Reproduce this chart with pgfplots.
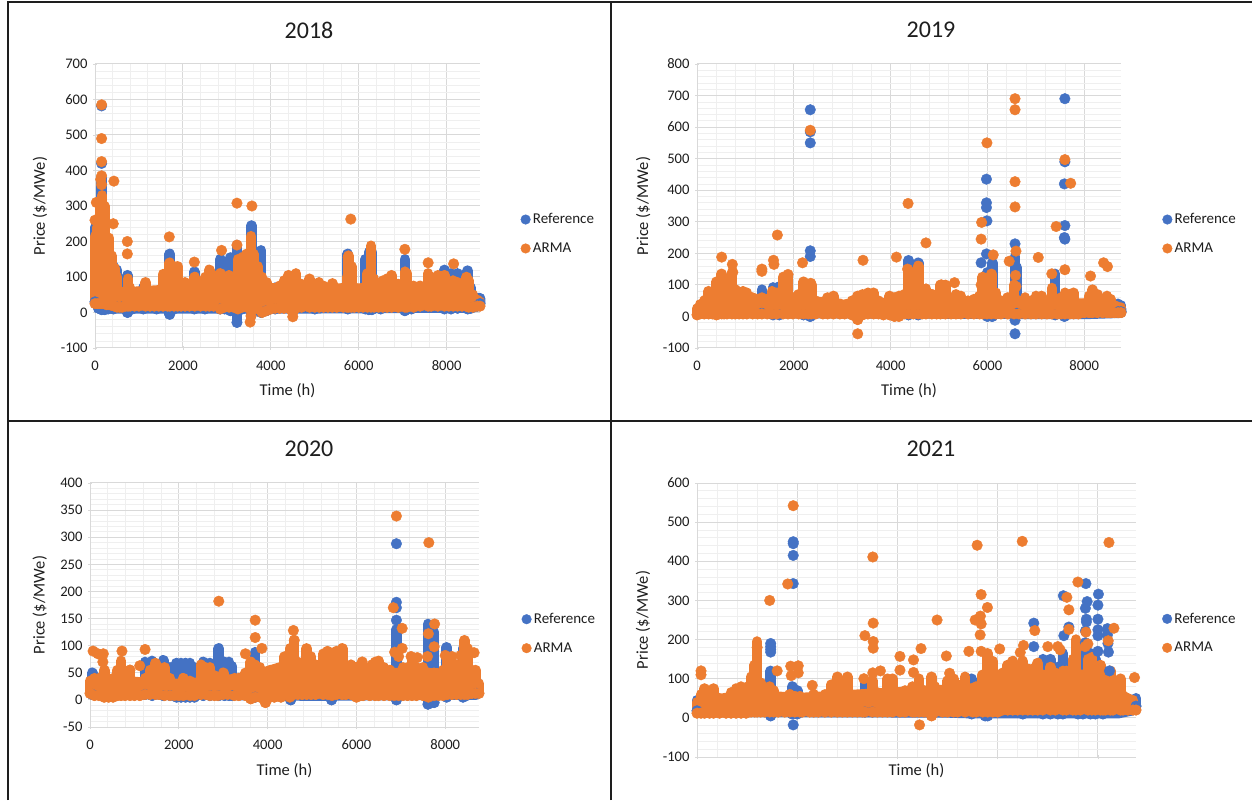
\documentclass[border=0pt]{standalone}
\usepackage{pgfplots}
\usepackage{pgfplotstable}
\usepackage{fontspec}
\setmainfont{Carlito}
\pgfplotsset{compat=1.18}
\definecolor{refblue}{HTML}{4472C4}
\definecolor{armaor}{HTML}{ED7D31}
\definecolor{txt}{HTML}{1E1E1E}
\definecolor{gmaj}{HTML}{D9D9D9}
\definecolor{gmin}{HTML}{EFEFEF}

% ---------- 2018 ----------
\pgfplotstableread[row sep=\\]{
x lo hi\\
0 25 215\\ 60 25 240\\ 110 25 300\\ 160 25 330\\ 210 25 300\\ 260 22 210\\ 320 22 210\\ 380 20 160\\ 440 18 125\\ 500 15 100\\ 560 15 60\\ 620 15 55\\ 700 18 60\\ 750 18 95\\ 800 18 70\\ 900 18 55\\ 1000 18 50\\ 1150 18 85\\ 1250 18 60\\ 1350 18 55\\ 1450 18 60\\ 1550 18 108\\ 1650 18 110\\ 1700 18 140\\ 1800 18 130\\ 1880 18 130\\ 1960 18 75\\ 2050 18 85\\ 2150 18 60\\ 2270 18 100\\ 2400 18 65\\ 2520 18 100\\ 2600 18 120\\ 2700 18 105\\ 2850 10 110\\ 2950 15 100\\ 3050 15 105\\ 3150 15 100\\ 3250 10 150\\ 3350 15 155\\ 3450 15 165\\ 3550 -10 215\\ 3600 10 165\\ 3700 10 130\\ 3800 0 100\\ 3900 5 85\\ 4000 10 60\\ 4100 12 60\\ 4200 12 75\\ 4300 12 90\\ 4400 12 105\\ 4500 0 85\\ 4570 12 110\\ 4700 15 80\\ 4880 15 95\\ 5000 15 70\\ 5100 15 85\\ 5200 15 75\\ 5300 15 65\\ 5400 15 82\\ 5500 15 65\\ 5650 15 70\\ 5730 15 100\\ 5770 15 160\\ 5830 15 130\\ 5900 15 70\\ 6000 15 65\\ 6100 15 70\\ 6200 15 110\\ 6280 15 188\\ 6350 15 95\\ 6450 15 75\\ 6550 15 90\\ 6650 15 95\\ 6750 15 105\\ 6900 15 80\\ 7050 15 115\\ 7100 15 110\\ 7250 15 75\\ 7400 18 75\\ 7580 18 110\\ 7650 18 100\\ 7800 18 105\\ 7950 18 105\\ 8050 18 85\\ 8150 18 90\\ 8250 18 85\\ 8350 18 80\\ 8450 18 100\\ 8500 15 90\\ 8600 15 50\\ 8700 18 35\\ 8760 18 30\\
}\oA
\pgfplotstableread[row sep=\\]{
x lo hi\\
0 30 240\\ 80 12 260\\ 150 8 380\\ 220 8 200\\ 300 10 180\\ 420 10 130\\ 500 15 120\\ 600 15 50\\ 740 0 105\\ 850 10 50\\ 1100 10 70\\ 1400 10 60\\ 1700 -5 165\\ 1800 10 80\\ 2260 10 115\\ 2500 10 60\\ 2850 10 150\\ 2950 10 130\\ 3080 5 155\\ 3230 -28 190\\ 3350 10 130\\ 3560 -5 245\\ 3780 0 175\\ 3900 5 80\\ 4100 10 70\\ 5000 10 60\\ 5750 10 165\\ 6150 10 150\\ 6230 8 170\\ 6300 8 170\\ 6500 10 70\\ 7050 5 150\\ 7200 10 70\\ 7950 10 120\\ 8100 10 110\\ 8250 12 110\\ 8480 10 118\\ 8550 12 70\\ 8700 18 40\\ 8760 25 40\\
}\bA
% ---------- 2019 ----------
\pgfplotstableread[row sep=\\]{
x lo hi\\
0 5 25\\ 60 8 38\\ 150 8 50\\ 240 8 80\\ 320 8 65\\ 400 5 110\\ 450 8 105\\ 510 8 135\\ 560 8 95\\ 620 8 60\\ 720 8 140\\ 790 8 85\\ 870 8 75\\ 950 8 80\\ 1030 8 75\\ 1150 8 60\\ 1250 8 55\\ 1340 8 60\\ 1450 8 55\\ 1550 8 80\\ 1650 8 75\\ 1780 8 125\\ 1880 8 130\\ 1980 8 60\\ 2100 8 70\\ 2200 8 110\\ 2300 8 85\\ 2360 8 100\\ 2450 8 50\\ 2600 8 40\\ 2700 8 60\\ 2820 8 65\\ 2950 8 40\\ 3050 8 35\\ 3200 5 50\\ 3320 -10 65\\ 3420 5 70\\ 3530 8 75\\ 3650 8 75\\ 3750 8 50\\ 3850 5 40\\ 3980 5 65\\ 4080 0 60\\ 4170 0 65\\ 4280 8 70\\ 4370 8 145\\ 4470 8 70\\ 4570 8 160\\ 4650 8 70\\ 4730 8 88\\ 4850 8 70\\ 4950 8 65\\ 5030 8 100\\ 5130 8 100\\ 5250 8 60\\ 5350 8 70\\ 5450 8 65\\ 5600 8 50\\ 5720 8 55\\ 5840 8 65\\ 5900 8 125\\ 5990 8 100\\ 6080 8 135\\ 6180 8 75\\ 6280 8 50\\ 6420 8 60\\ 6550 8 100\\ 6650 8 50\\ 6780 8 60\\ 6900 8 50\\ 7000 8 65\\ 7120 8 65\\ 7230 8 45\\ 7330 8 90\\ 7440 8 50\\ 7520 8 60\\ 7600 8 75\\ 7700 8 70\\ 7780 8 75\\ 7880 8 40\\ 8000 12 40\\ 8100 12 65\\ 8170 12 85\\ 8270 12 70\\ 8380 12 55\\ 8470 12 65\\ 8540 12 55\\ 8620 12 35\\ 8700 12 30\\ 8760 12 28\\
}\oB
\pgfplotstableread[row sep=\\]{
x lo hi\\
1340 10 85\\ 1570 5 92\\ 1700 5 95\\ 2200 5 90\\ 2340 0 80\\ 4370 5 178\\ 4570 5 170\\ 6000 0 140\\ 6100 0 170\\ 6570 5 190\\ 6610 10 155\\ 7400 5 135\\ 7590 0 50\\ 8700 15 40\\ 8760 15 35\\
}\bB
% ---------- 2020 ----------
\pgfplotstableread[row sep=\\]{
x lo hi\\
0 12 35\\ 100 8 40\\ 200 8 40\\ 320 5 55\\ 420 5 30\\ 520 5 40\\ 620 8 55\\ 700 8 72\\ 790 8 35\\ 900 8 55\\ 1000 8 30\\ 1120 8 30\\ 1240 10 40\\ 1350 10 55\\ 1470 10 68\\ 1560 10 50\\ 1680 8 60\\ 1800 8 40\\ 1900 8 30\\ 2000 8 25\\ 2100 8 40\\ 2250 8 35\\ 2350 8 30\\ 2500 10 65\\ 2600 10 60\\ 2700 8 60\\ 2800 8 45\\ 2880 8 30\\ 3000 10 50\\ 3100 10 35\\ 3250 8 40\\ 3350 8 40\\ 3500 8 50\\ 3620 2 70\\ 3720 5 65\\ 3830 5 60\\ 3950 -5 50\\ 4060 5 55\\ 4150 5 40\\ 4300 5 60\\ 4380 10 80\\ 4500 5 95\\ 4590 10 110\\ 4680 10 70\\ 4780 10 60\\ 4880 10 95\\ 4980 10 80\\ 5080 10 65\\ 5250 10 85\\ 5350 10 90\\ 5450 8 65\\ 5550 10 90\\ 5680 10 95\\ 5760 10 60\\ 5880 10 65\\ 6000 5 50\\ 6080 8 40\\ 6150 8 40\\ 6300 8 60\\ 6420 8 70\\ 6500 8 72\\ 6620 8 60\\ 6750 8 55\\ 6850 8 50\\ 6950 8 50\\ 7050 8 60\\ 7150 8 60\\ 7250 8 75\\ 7350 8 60\\ 7500 8 60\\ 7620 5 50\\ 7750 8 50\\ 7850 8 35\\ 7950 8 55\\ 8050 10 75\\ 8150 10 55\\ 8250 10 65\\ 8350 10 65\\ 8430 10 110\\ 8500 10 95\\ 8600 12 55\\ 8680 12 55\\ 8760 12 30\\
}\oC
\pgfplotstableread[row sep=\\]{
x lo hi\\
50 10 50\\ 1240 10 70\\ 1400 8 72\\ 1650 8 73\\ 1800 8 60\\ 1950 5 68\\ 2050 5 68\\ 2150 5 68\\ 2250 5 68\\ 2350 5 60\\ 2550 8 70\\ 2700 8 68\\ 2900 8 95\\ 3030 8 70\\ 3130 8 70\\ 3200 8 62\\ 3720 5 88\\ 4520 0 90\\ 5440 0 30\\ 6900 0 130\\ 7610 -8 140\\ 7680 -5 125\\ 7750 -5 125\\ 8030 5 97\\ 8400 5 95\\ 8480 8 75\\ 8700 12 35\\
}\bC
% ---------- 2021 ----------
\pgfplotstableread[row sep=\\]{
x lo hi\\
0 12 40\\ 80 12 60\\ 150 12 75\\ 250 12 50\\ 330 12 75\\ 450 12 50\\ 580 12 50\\ 680 12 65\\ 780 12 75\\ 880 12 80\\ 980 12 78\\ 1080 15 105\\ 1150 15 135\\ 1200 15 195\\ 1270 15 90\\ 1350 15 55\\ 1450 15 80\\ 1530 15 70\\ 1620 15 45\\ 1750 15 45\\ 1850 15 60\\ 1950 15 55\\ 2050 15 55\\ 2100 15 50\\ 2250 15 50\\ 2330 15 60\\ 2420 15 50\\ 2550 15 60\\ 2680 15 85\\ 2800 15 105\\ 2900 15 80\\ 3000 15 105\\ 3100 15 55\\ 3200 15 50\\ 3300 15 50\\ 3350 15 55\\ 3500 15 95\\ 3600 15 65\\ 3700 15 60\\ 3800 15 100\\ 3900 15 100\\ 4050 15 65\\ 4150 15 70\\ 4300 15 80\\ 4350 15 70\\ 4430 15 100\\ 4530 15 70\\ 4680 5 105\\ 4750 15 80\\ 4900 15 65\\ 5000 15 95\\ 5120 15 100\\ 5200 15 85\\ 5350 15 105\\ 5500 15 75\\ 5570 15 80\\ 5700 15 110\\ 5800 15 165\\ 5900 15 145\\ 6000 15 85\\ 6100 20 115\\ 6200 20 135\\ 6300 20 145\\ 6400 20 110\\ 6500 20 145\\ 6600 20 125\\ 6700 20 125\\ 6800 20 140\\ 6900 20 110\\ 7050 20 130\\ 7150 20 115\\ 7300 20 120\\ 7370 20 120\\ 7500 20 150\\ 7560 20 200\\ 7650 20 110\\ 7800 20 150\\ 7880 20 155\\ 7950 20 120\\ 8050 20 135\\ 8100 20 110\\ 8150 20 95\\ 8250 20 120\\ 8300 20 95\\ 8450 20 100\\ 8500 20 55\\ 8600 20 50\\ 8700 20 45\\ 8760 20 30\\
}\oD
\pgfplotstableread[row sep=\\]{
x lo hi\\
0 18 45\\ 1470 5 120\\ 1900 10 80\\ 2000 10 70\\ 3350 15 90\\ 3500 15 80\\ 5480 10 100\\ 5750 5 100\\ 5800 5 135\\ 6500 10 140\\ 6900 10 150\\ 7050 10 150\\ 7200 10 130\\ 7300 10 165\\ 7600 10 175\\ 7700 10 165\\ 7850 10 165\\ 7950 10 150\\ 8100 10 120\\ 8760 30 50\\
}\bD

\pgfplotsset{
  band/.style={forget plot, only marks, mark=*, mark size=5.3pt, color=#1,
    mark options={fill=#1, draw=none},
    error bars/.cd, y dir=plus, y explicit, error mark=none,
    error bar style={line width=10.6pt, line cap=round, color=#1}},
  dots/.style={forget plot, only marks, mark=*, mark size=5.3pt, color=#1,
    mark options={fill=#1, draw=none}},
  core/.style={forget plot, draw=#1, fill=#1, line width=10.6pt, line join=round, mark=none},
  panel/.style={
    scale only axis, clip=false,
    anchor=south west,
    axis x line=bottom, axis y line=left,
    axis line style={-, color=gmaj, line width=1pt},
    tick style={color=gmaj, line width=.8pt},
    major tick length=4pt, minor tick length=0pt,
    grid=both,
    major grid style={color=gmaj, line width=1pt},
    minor grid style={color=gmin, line width=.7pt},
    minor x tick num=4, minor y tick num=4,
    xmin=0, xmax=8760,
    xtick={0,2000,4000,6000,8000},
    scaled ticks=false,
    /pgf/number format/assume math mode=true,
    /pgf/number format/1000 sep={},
    tick label style={font=\fontsize{14.6}{16}\selectfont, color=txt},
    xticklabel style={yshift=-7pt},
    yticklabel style={xshift=-2pt},
    label style={font=\fontsize{16.5}{19}\selectfont, color=txt},
    xlabel={Time (h)}, ylabel={Price (\$/MWe)},
    legend cell align=left,
    legend style={draw=none, fill=none, anchor=west,
      font=\fontsize{15}{17}\selectfont, text=txt,
      row sep=17.5pt, inner sep=0pt, outer sep=0pt,
      nodes={inner xsep=2.5pt, inner ysep=0pt}},
    legend image post style={mark size=4.8pt},
  }
}
\newcommand{\legendall}{%
  \addlegendimage{only marks, mark=*, color=refblue, mark options={fill=refblue, draw=none}}
  \addlegendentry{Reference}
  \addlegendimage{only marks, mark=*, color=armaor, mark options={fill=armaor, draw=none}}
  \addlegendentry{ARMA}
}

\begin{document}
\begin{tikzpicture}[x=1pt,y=1pt]
\fill[white] (0,0) rectangle (1252,800);
\path[use as bounding box] (0,0) rectangle (1252,800);

% 2018
\begin{axis}[panel, at={(95pt,452pt)}, width=385pt, height=284pt,
  ymin=-100, ymax=700, ytick={-100,0,...,700},
  xlabel style={at={(axis description cs:0.5,-0.151)}, anchor=center},
  ylabel style={at={(axis description cs:-0.143,0.5)}, anchor=center},
  legend style={at={(1.106,0.402)}}]
\legendall
\addplot[core=refblue] coordinates {(30,30)(300,12)(1000,12)(3000,12)(5000,12)(8000,14)(8600,14)(8760,28)(8760,40)(30,40)} -- cycle;
\addplot[band=refblue] table[x=x,y=lo,y error expr=\thisrow{hi}-\thisrow{lo}] {\bA};
\addplot[dots=refblue] coordinates {(150,582)(150,420)};
\addplot[core=armaor] coordinates {(30,28)(8500,26)(8700,22)(8700,30)(8500,55)(8000,66)(4000,68)(2500,70)(500,55)(30,60)} -- cycle;
\addplot[band=armaor] table[x=x,y=lo,y error expr=\thisrow{hi}-\thisrow{lo}] {\oA};
\addplot[dots=armaor] coordinates {(150,585)(150,490)(150,425)(150,385)(130,375)(150,360)(30,310)(60,310)(430,370)(415,250)(0,260)(735,200)(735,165)(1690,213)(2260,142)(2880,175)(3230,308)(3570,300)(3230,190)(5820,263)(7050,178)(7580,140)(8160,137)(4500,-12)(3530,-27)(5760,155)};
\end{axis}

% 2019
\begin{axis}[panel, at={(697pt,452pt)}, width=424pt, height=284pt,
  ymin=-100, ymax=800, ytick={-100,0,...,800},
  xlabel style={at={(axis description cs:0.5,-0.151)}, anchor=center},
  ylabel style={at={(axis description cs:-0.127,0.5)}, anchor=center},
  legend style={at={(1.098,0.402)}}]
\legendall
\addplot[core=refblue] coordinates {(30,12)(8000,8)(8760,12)(8760,25)(30,25)} -- cycle;
\addplot[band=refblue] table[x=x,y=lo,y error expr=\thisrow{hi}-\thisrow{lo}] {\bB};
\addplot[dots=refblue] coordinates {(2340,655)(2340,585)(2340,550)(2340,208)(2340,190)(5980,435)(5980,360)(5980,345)(5990,303)(5980,198)(5870,170)(6570,230)(6570,-55)(6570,-12)(7600,690)(7600,490)(7590,420)(7600,288)(7590,250)(7600,245)};
\addplot[core=armaor] coordinates {(30,16)(8700,16)(8700,28)(8400,40)(3200,42)(3000,35)(2800,45)(500,50)(200,38)(30,25)} -- cycle;
\addplot[band=armaor] table[x=x,y=lo,y error expr=\thisrow{hi}-\thisrow{lo}] {\oB};
\addplot[dots=armaor] coordinates {(2340,590)(2350,105)(1660,258)(1580,178)(1590,165)(1340,150)(1340,143)(510,188)(730,165)(740,140)(1880,133)(1820,125)(2180,170)(3320,-55)(3430,178)(4360,358)(4120,188)(4350,150)(4570,155)(4730,233)(5870,245)(5880,298)(5990,550)(6120,195)(6570,690)(6570,655)(6570,427)(6570,347)(6590,207)(6450,175)(6580,130)(6590,95)(7050,187)(7330,135)(7420,285)(7600,148)(7600,497)(7720,422)(8130,128)(8400,170)(8480,158)(5320,107)(5050,100)(5870,100)};
\end{axis}

% 2020
\begin{axis}[panel, at={(90pt,73pt)}, width=389pt, height=244pt,
  ymin=-50, ymax=400, ytick={-50,0,...,400},
  xlabel style={at={(axis description cs:0.5,-0.18)}, anchor=center},
  ylabel style={at={(axis description cs:-0.129,0.5)}, anchor=center},
  legend style={at={(1.11,0.383)}}]
\legendall
\addplot[core=refblue] coordinates {(30,13)(2000,10)(5000,8)(8700,10)(8700,25)(30,25)} -- cycle;
\addplot[band=refblue] table[x=x,y=lo,y error expr=\thisrow{hi}-\thisrow{lo}] {\bC};
\addplot[dots=refblue] coordinates {(6900,288)(6900,180)(6900,170)(6900,147)};
\addplot[core=armaor] coordinates {(30,15)(8700,15)(8700,25)(8500,48)(6200,50)(6000,60)(4300,60)(3500,40)(2500,32)(1700,28)(1000,33)(30,33)} -- cycle;
\addplot[band=armaor] table[x=x,y=lo,y error expr=\thisrow{hi}-\thisrow{lo}] {\oC};
\addplot[dots=armaor] coordinates {(70,90)(180,85)(300,85)(290,70)(720,90)(1240,93)(1120,63)(900,55)(2900,182)(3720,147)(3720,115)(3870,95)(3500,85)(4580,128)(6830,170)(6900,339)(7030,132)(7030,95)(6860,88)(6950,80)(7630,290)(7620,122)(7760,140)(7750,98)(7600,80)(7230,80)(7370,78)(8000,82)(8150,80)(8350,82)(8650,87)(6130,70)(6360,65)(4600,110)};
\end{axis}

% 2021
\begin{axis}[panel, at={(697pt,43pt)}, width=439pt, height=274pt,
  ymin=-100, ymax=600, ytick={-100,0,...,600},
  xticklabels={},
  xlabel style={at={(axis description cs:0.5,-0.051)}, anchor=center},
  ylabel style={at={(axis description cs:-0.123,0.5)}, anchor=center},
  legend style={at={(1.06,0.452)}}]
\legendall
\addplot[core=refblue] coordinates {(30,16)(5000,14)(5500,12)(8400,12)(8700,20)(8700,40)(30,40)} -- cycle;
\addplot[band=refblue] table[x=x,y=lo,y error expr=\thisrow{hi}-\thisrow{lo}] {\bD};
\addplot[dots=refblue] coordinates {(1470,190)(1470,182)(1470,175)(1470,168)(1920,450)(1920,445)(1920,415)(1920,343)(1920,-18)(6720,242)(6720,182)(7310,312)(7420,232)(7320,210)(7760,343)(7785,297)(7750,280)(7770,252)(7770,245)(7750,222)(7750,192)(8010,316)(8000,288)(8000,252)(8000,225)(8000,210)(8000,170)(8190,228)(8190,212)(8200,190)(8210,168)(8230,120)};
\addplot[core=armaor] coordinates {(30,22)(5500,22)(6000,26)(8400,26)(8700,24)(8700,35)(8300,78)(8000,110)(7000,110)(6000,92)(5500,75)(4000,65)(2000,50)(1000,60)(30,38)} -- cycle;
\addplot[band=armaor] table[x=x,y=lo,y error expr=\thisrow{hi}-\thisrow{lo}] {\oD};
\addplot[dots=armaor] coordinates {(80,120)(80,110)(1200,180)(1450,300)(1600,120)(1810,342)(1920,542)(1870,132)(1880,108)(2020,133)(2020,115)(2300,83)(3330,100)(3350,210)(3508,411)(3516,242)(3516,195)(3516,178)(3508,115)(3660,120)(4050,157)(4050,122)(4320,148)(4470,177)(4440,-18)(4320,116)(4790,250)(4975,158)(5040,114)(5590,441)(5670,315)(5655,260)(5550,250)(5670,240)(5650,212)(5795,282)(5425,170)(5670,170)(6040,176)(6490,451)(6450,167)(6515,185)(6740,223)(7000,182)(7200,182)(7380,308)(7420,276)(7420,226)(7600,347)(7745,182)(7760,219)(7800,189)(8220,448)(8320,229)(8205,197)(8730,103)(7245,174)};
\end{axis}

% panel frames
\draw[color=txt, line width=2.5pt] (8,0) -- (8,798) -- (1252,798);
\draw[color=txt, line width=2.5pt] (611,0) -- (611,798);
\draw[color=txt, line width=2.5pt] (8,379) -- (1252,379);

% titles
\node[font=\fontsize{24}{28}\selectfont, text=txt] at (309,770) {2018};
\node[font=\fontsize{24}{28}\selectfont, text=txt] at (931,770) {2019};
\node[font=\fontsize{24}{28}\selectfont, text=txt] at (309,351) {2020};
\node[font=\fontsize{24}{28}\selectfont, text=txt] at (931,351) {2021};
\end{tikzpicture}
\end{document}
